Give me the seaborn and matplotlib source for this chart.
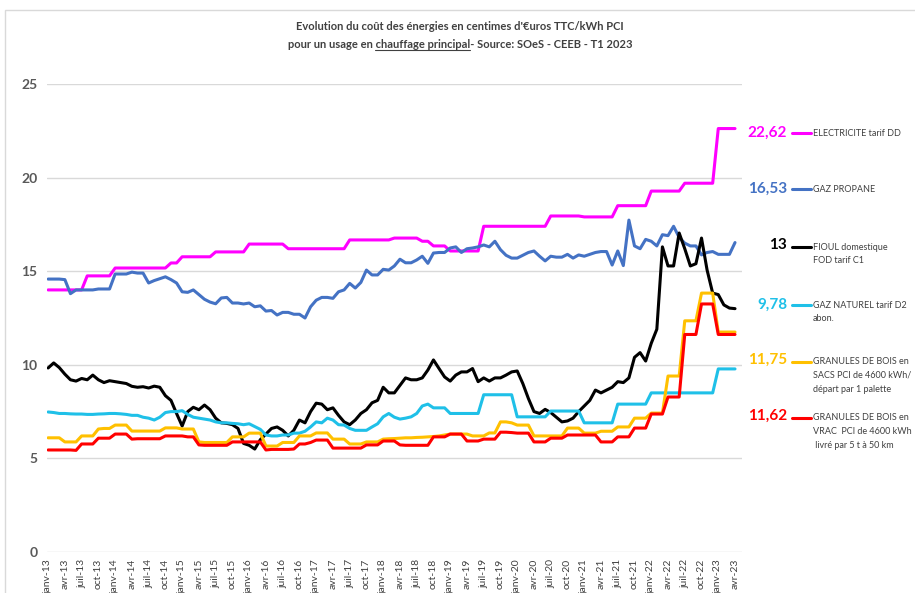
import matplotlib
matplotlib.use("Agg")
import matplotlib.pyplot as plt
import seaborn as sns
import pandas as pd
from matplotlib.lines import Line2D
from matplotlib.patches import Rectangle

# mois de janv-13 a avr-23 (124 points mensuels)
mois_fr = ["janv", "févr", "mars", "avr", "mai", "juin",
           "juil", "août", "sept", "oct", "nov", "déc"]
periodes = [f"{m}-{a}" for a in range(13, 24) for m in mois_fr][:124]

electricite = [
    14.0, 14.0, 14.0, 14.0, 14.0, 14.0, 14.0, 14.75, 14.75, 14.75, 14.75, 14.75,
    15.17, 15.17, 15.17, 15.17, 15.17, 15.17, 15.17, 15.17, 15.17, 15.17, 15.44, 15.44,
    15.77, 15.77, 15.77, 15.77, 15.77, 15.77, 16.03, 16.03, 16.03, 16.03, 16.03, 16.03,
    16.45, 16.45, 16.45, 16.45, 16.45, 16.45, 16.45, 16.2, 16.2, 16.2, 16.2, 16.2,
    16.2, 16.2, 16.2, 16.2, 16.2, 16.2, 16.67, 16.67, 16.67, 16.67, 16.67, 16.67,
    16.67, 16.67, 16.77, 16.77, 16.77, 16.77, 16.77, 16.6, 16.6, 16.35, 16.35, 16.35,
    16.08, 16.08, 16.08, 16.08, 16.08, 16.08, 17.4, 17.4, 17.4, 17.4, 17.4, 17.4,
    17.4, 17.4, 17.4, 17.4, 17.4, 17.4, 17.95, 17.95, 17.95, 17.95, 17.95, 17.95,
    17.9, 17.9, 17.9, 17.9, 17.9, 17.9, 18.5, 18.5, 18.5, 18.5, 18.5, 18.5,
    19.28, 19.28, 19.28, 19.28, 19.28, 19.28, 19.7, 19.7, 19.7, 19.7, 19.7, 19.7,
    22.62, 22.62, 22.62, 22.62,
]

propane = [
    14.58, 14.58, 14.58, 14.55, 13.8, 14.0, 14.0, 14.0, 14.0, 14.05, 14.05, 14.05,
    14.85, 14.85, 14.85, 14.95, 14.9, 14.9, 14.37, 14.5, 14.6, 14.7, 14.55, 14.37,
    13.9, 13.87, 14.0, 13.75, 13.5, 13.35, 13.26, 13.57, 13.6, 13.3, 13.3, 13.25,
    13.3, 13.1, 13.15, 12.87, 12.9, 12.66, 12.8, 12.8, 12.7, 12.7, 12.5, 13.1,
    13.45, 13.6, 13.6, 13.55, 13.9, 14.0, 14.35, 14.1, 14.4, 15.06, 14.8, 14.8,
    15.1, 15.06, 15.28, 15.64, 15.45, 15.45, 15.6, 15.8, 15.42, 15.97, 16.0, 16.0,
    16.24, 16.3, 16.0, 16.2, 16.24, 16.3, 16.4, 16.3, 16.6, 16.15, 15.85, 15.7,
    15.7, 15.85, 16.0, 16.08, 15.8, 15.55, 15.8, 15.75, 15.75, 15.9, 15.7, 15.87,
    15.8, 15.9, 16.0, 16.05, 16.05, 15.33, 16.08, 15.3, 17.73, 16.35, 16.2, 16.7,
    16.6, 16.35, 16.95, 16.9, 17.4, 16.8, 16.5, 16.35, 16.35, 15.87, 16.0, 16.05,
    15.9, 15.9, 15.9, 16.53,
]

fioul = [
    9.83, 10.1, 9.85, 9.5, 9.2, 9.13, 9.27, 9.2, 9.45, 9.2, 9.05, 9.15,
    9.1, 9.05, 9.0, 8.85, 8.8, 8.83, 8.76, 8.86, 8.8, 8.35, 8.1, 7.4,
    6.73, 7.5, 7.73, 7.6, 7.85, 7.6, 7.15, 6.9, 6.87, 6.8, 6.6, 5.8,
    5.7, 5.5, 6.0, 6.3, 6.6, 6.68, 6.5, 6.2, 6.5, 7.05, 6.9, 7.5,
    7.95, 7.9, 7.6, 7.7, 7.3, 6.95, 6.8, 7.05, 7.4, 7.6, 7.97, 8.1,
    8.8, 8.5, 8.5, 8.9, 9.3, 9.2, 9.2, 9.3, 9.72, 10.26, 9.8, 9.35,
    9.13, 9.45, 9.62, 9.62, 9.8, 9.1, 9.3, 9.13, 9.3, 9.3, 9.45, 9.62,
    9.67, 9.0, 8.2, 7.5, 7.4, 7.62, 7.45, 7.2, 6.95, 7.0, 7.15, 7.5,
    7.8, 8.1, 8.65, 8.5, 8.65, 8.8, 9.1, 9.05, 9.3, 10.4, 10.65, 10.2,
    11.15, 11.9, 16.3, 15.28, 15.28, 17.04, 16.2, 15.28, 15.4, 16.77, 15.06, 13.83,
    13.75, 13.2, 13.03, 13.0,
]

gaz_naturel = [
    7.48, 7.45, 7.4, 7.4, 7.38, 7.37, 7.37, 7.35, 7.35, 7.37, 7.38, 7.4,
    7.4, 7.38, 7.35, 7.3, 7.3, 7.2, 7.15, 7.05, 7.2, 7.45, 7.5, 7.5,
    7.55, 7.35, 7.2, 7.15, 7.1, 7.05, 6.95, 6.9, 6.9, 6.87, 6.85, 6.8,
    6.85, 6.7, 6.55, 6.25, 6.2, 6.2, 6.25, 6.25, 6.35, 6.35, 6.45, 6.68,
    6.95, 6.9, 7.15, 7.05, 6.8, 6.78, 6.6, 6.5, 6.5, 6.5, 6.68, 6.85,
    7.22, 7.4, 7.2, 7.1, 7.15, 7.22, 7.4, 7.8, 7.9, 7.7, 7.7, 7.7,
    7.4, 7.4, 7.4, 7.4, 7.4, 7.4, 8.4, 8.4, 8.4, 8.4, 8.4, 8.4,
    7.22, 7.22, 7.22, 7.22, 7.22, 7.22, 7.53, 7.53, 7.53, 7.53, 7.53, 7.53,
    6.9, 6.9, 6.9, 6.9, 6.9, 6.9, 7.9, 7.9, 7.9, 7.9, 7.9, 7.9,
    8.5, 8.5, 8.5, 8.5, 8.5, 8.5, 8.5, 8.5, 8.5, 8.5, 8.5, 8.5,
    9.78, 9.78, 9.78, 9.78,
]

granules_sacs = [
    6.1, 6.1, 6.1, 5.88, 5.88, 5.88, 6.2, 6.2, 6.2, 6.57, 6.6, 6.6,
    6.78, 6.78, 6.78, 6.46, 6.46, 6.46, 6.46, 6.46, 6.46, 6.63, 6.63, 6.63,
    6.57, 6.57, 6.57, 5.88, 5.85, 5.85, 5.85, 5.85, 5.85, 6.15, 6.15, 6.15,
    6.35, 6.35, 6.35, 5.66, 5.66, 5.66, 5.85, 5.85, 5.85, 6.2, 6.2, 6.2,
    6.36, 6.36, 6.36, 6.03, 6.03, 6.03, 5.77, 5.77, 5.77, 5.88, 5.88, 5.88,
    6.03, 6.05, 6.06, 6.08, 6.1, 6.1, 6.12, 6.13, 6.15, 6.17, 6.2, 6.25,
    6.3, 6.3, 6.3, 6.3, 6.2, 6.2, 6.2, 6.36, 6.36, 6.95, 6.95, 6.9,
    6.78, 6.78, 6.78, 6.2, 6.2, 6.2, 6.2, 6.2, 6.2, 6.62, 6.62, 6.62,
    6.35, 6.35, 6.35, 6.45, 6.45, 6.45, 6.68, 6.68, 6.68, 7.15, 7.15, 7.15,
    7.42, 7.42, 7.42, 9.4, 9.4, 9.4, 12.35, 12.35, 12.35, 13.83, 13.83, 13.83,
    11.75, 11.75, 11.75, 11.75,
]

granules_vrac = [
    5.45, 5.45, 5.45, 5.45, 5.45, 5.43, 5.77, 5.77, 5.77, 6.08, 6.08, 6.08,
    6.3, 6.3, 6.3, 6.03, 6.05, 6.05, 6.05, 6.05, 6.05, 6.2, 6.2, 6.2,
    6.2, 6.15, 6.15, 5.72, 5.7, 5.7, 5.7, 5.7, 5.7, 5.88, 5.88, 5.88,
    5.88, 5.88, 5.88, 5.45, 5.48, 5.48, 5.48, 5.48, 5.5, 5.77, 5.77, 5.85,
    5.98, 5.98, 5.98, 5.55, 5.55, 5.55, 5.55, 5.55, 5.55, 5.72, 5.72, 5.72,
    5.93, 5.93, 5.93, 5.72, 5.7, 5.7, 5.7, 5.7, 5.7, 6.15, 6.15, 6.15,
    6.3, 6.3, 6.3, 5.93, 5.93, 5.93, 6.03, 6.03, 6.03, 6.4, 6.4, 6.38,
    6.35, 6.35, 6.35, 5.88, 5.88, 5.88, 6.08, 6.08, 6.08, 6.25, 6.25, 6.25,
    6.25, 6.25, 6.25, 5.88, 5.88, 5.88, 6.15, 6.15, 6.15, 6.62, 6.62, 6.62,
    7.37, 7.37, 7.37, 8.28, 8.28, 8.28, 11.62, 11.62, 11.62, 13.25, 13.25, 13.25,
    11.62, 11.62, 11.62, 11.62,
]

noms = ["ELECTRICITE", "PROPANE", "FIOUL", "GAZ NATUREL", "GRANULES SACS", "GRANULES VRAC"]
valeurs = [electricite, propane, fioul, gaz_naturel, granules_sacs, granules_vrac]
couleurs = ["#FF00FF", "#4472C4", "#000000", "#1FC0E8", "#FFC000", "#FF0000"]
etiquettes = ["22,62", "16,53", "13", "9,78", "11,75", "11,62"]
legendes = [
    ["ELECTRICITE tarif DD"],
    ["GAZ PROPANE"],
    ["FIOUL domestique", "FOD tarif C1"],
    ["GAZ NATUREL tarif D2", "abon."],
    ["GRANULES DE BOIS en", "SACS PCI de 4600 kWh/", "départ par 1 palette"],
    ["GRANULES DE BOIS en", "VRAC  PCI de 4600 kWh", " livré par 5 t à 50 km"],
]

df = pd.concat(
    [pd.DataFrame({"mois": range(len(v)), "prix": v, "energie": n}) for n, v in zip(noms, valeurs)],
    ignore_index=True,
)

sns.set_style("white")
plt.rcParams["font.family"] = ["Lato", "DejaVu Sans"]

W, H = 915, 593
fig, ax = plt.subplots(figsize=(W / 100, H / 100), dpi=100)
fig.subplots_adjust(left=47 / W, right=742 / W, bottom=1 - 552 / H, top=1 - 84 / H)

sns.lineplot(data=df, x="mois", y="prix", hue="energie", hue_order=noms,
             palette=dict(zip(noms, couleurs)), linewidth=2.2, legend=False,
             estimator=None, ax=ax)

ax.set_xlim(-0.2, 124.25)
ax.set_ylim(0, 25)
ax.set_yticks([0, 5, 10, 15, 20, 25])
ax.set_xticks(range(0, len(periodes), 3))
ax.set_xticklabels(periodes[::3], rotation=90, fontsize=7.5, color="#404040")
for lab in ax.get_yticklabels():
    lab.set_fontweight("bold")
    lab.set_fontsize(10)
    lab.set_color("#595959")
ax.tick_params(axis="both", length=0)
ax.tick_params(axis="x", pad=5)
ax.tick_params(axis="y", pad=7)
ax.set_xlabel("")
ax.set_ylabel("")
ax.yaxis.grid(True, color="#D9D9D9", linewidth=1)
ax.xaxis.grid(False)
for s in ax.spines.values():
    s.set_visible(False)


def px(x, y):
    return x / W, 1 - y / H


# cadre du graphique
fig.patches.append(Rectangle(px(5, 600), 930 / W, 590 / H, transform=fig.transFigure,
                             fill=False, edgecolor="#D9D9D9", linewidth=1))

# titre sur deux lignes, "chauffage principal" souligne
titre1 = "Evolution du coût des énergies en centimes d'€uros TTC/kWh PCI"
avant = "pour un usage en "
souligne = "chauffage principal"
apres = "- Source: SOeS - CEEB - T1 2023"
tkw = dict(fontsize=8, fontweight="bold", color="#404040", ha="center", va="center")
fig.text(*px(460, 27), titre1, **tkw)
t2 = fig.text(*px(460, 45), avant + souligne + apres, **tkw)

fig.canvas.draw()
rend = fig.canvas.get_renderer()


def largeur(s):
    t = fig.text(0, 0, s, fontsize=8, fontweight="bold")
    w = t.get_window_extent(rend).width
    t.remove()
    return w


bb = t2.get_window_extent(rend)
x_fin = bb.x0 + largeur(avant + souligne)
x_deb = x_fin - largeur(souligne)
y_ul = bb.y0 + 1
fig.add_artist(Line2D([x_deb / W, x_fin / W], [y_ul / H, y_ul / H], transform=fig.transFigure,
                      color="#404040", linewidth=0.8))

# etiquettes de fin de serie a droite
pos_val = [133, 189, 245, 305, 360, 416]
pos_trait = [133, 189, 247, 305, 362, 418]
for i in range(len(noms)):
    fig.text(*px(787, pos_val[i]), etiquettes[i], color=couleurs[i], fontsize=11,
             fontweight="bold", ha="right", va="center")
    fig.add_artist(Line2D([792 / W, 811 / W], [1 - pos_trait[i] / H] * 2,
                          transform=fig.transFigure, color=couleurs[i], linewidth=2.2))
    for k, ligne in enumerate(legendes[i]):
        fig.text(*px(813, pos_trait[i] + 13.5 * k), ligne, color="#404040", fontsize=6.5,
                 ha="left", va="center")

fig.savefig("out.png", dpi=100)
